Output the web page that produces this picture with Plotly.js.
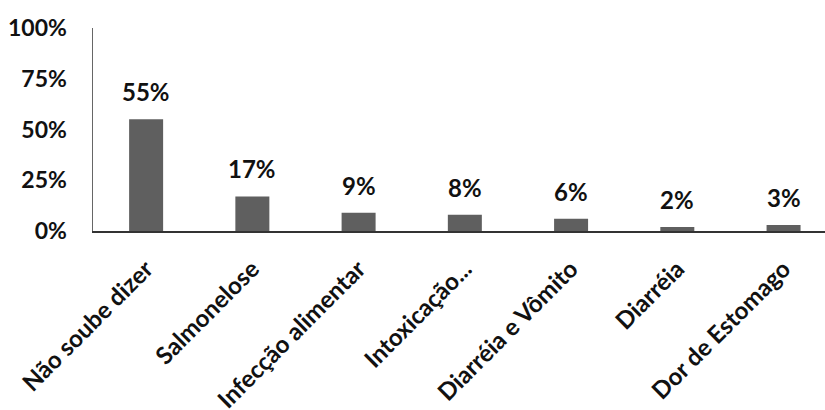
<!DOCTYPE html>
<html>
<head>
<meta charset="utf-8">
<script src="https://cdn.plot.ly/plotly-3.0.1.min.js"></script>
<style>
  html, body { margin: 0; padding: 0; background: #fff; overflow: hidden; }
  #chart { width: 825px; height: 410px; }
</style>
</head>
<body>
<div id="chart"></div>
<script>
// Causas citadas pelos entrevistados (percentual de respostas)
const categories = [
  'Não soube dizer',
  'Salmonelose',
  'Infecção alimentar',
  'Intoxicação...',
  'Diarréia e Vômito',
  'Diarréia',
  'Dor de Estomago'
];
const percentages = [55, 17, 9, 8, 6, 2, 3];
const yTickValues = [0, 25, 50, 75, 100];
const yTickLabels = ['0%', '25%', '50%', '75%', '100%'];

const FONT = 'Lato, "Open Sans", sans-serif';
const indices = categories.map((_, i) => i);

const trace = {
  type: 'bar',
  x: indices,
  y: percentages,
  width: 0.32,
  marker: { color: '#5f5f5f', line: { width: 0 } },
  hoverinfo: 'skip'
};

const labels = percentages.map((v, i) => ({
  x: i,
  y: v,
  xref: 'x',
  yref: 'y',
  text: '<b>' + v + '%</b>',
  showarrow: false,
  yanchor: 'bottom',
  yshift: 11,
  font: { family: FONT, size: 24, color: '#111' }
}));

const layout = {
  width: 825,
  height: 410,
  margin: { l: 93, r: 0, t: 28, b: 179, pad: 0 },
  paper_bgcolor: '#fff',
  plot_bgcolor: '#fff',
  showlegend: false,
  font: { family: FONT, size: 23, color: '#111' },
  xaxis: {
    type: 'linear',
    range: [-0.5, 6.39],
    tickmode: 'array',
    tickvals: indices,
    ticktext: categories.map(c => '<b>' + c + '</b>'),
    tickangle: -45,
    ticks: 'outside',
    ticklen: 13,
    tickcolor: 'rgba(0,0,0,0)',
    showgrid: false,
    zeroline: false,
    showline: true,
    linecolor: '#333',
    linewidth: 1.5,
    tickfont: { family: FONT, size: 24, color: '#111' }
  },
  yaxis: {
    range: [0, 100],
    tickmode: 'array',
    tickvals: yTickValues,
    ticktext: yTickLabels.map(t => '<b>' + t + '</b>'),
    ticks: 'outside',
    ticklen: 20,
    tickcolor: 'rgba(0,0,0,0)',
    showgrid: false,
    zeroline: false,
    showline: true,
    linecolor: '#666',
    linewidth: 1.5,
    tickfont: { family: FONT, size: 23, color: '#111' }
  },
  annotations: labels
};

Plotly.newPlot('chart', [trace], layout, { displayModeBar: false, staticPlot: true });
</script>
</body>
</html>
